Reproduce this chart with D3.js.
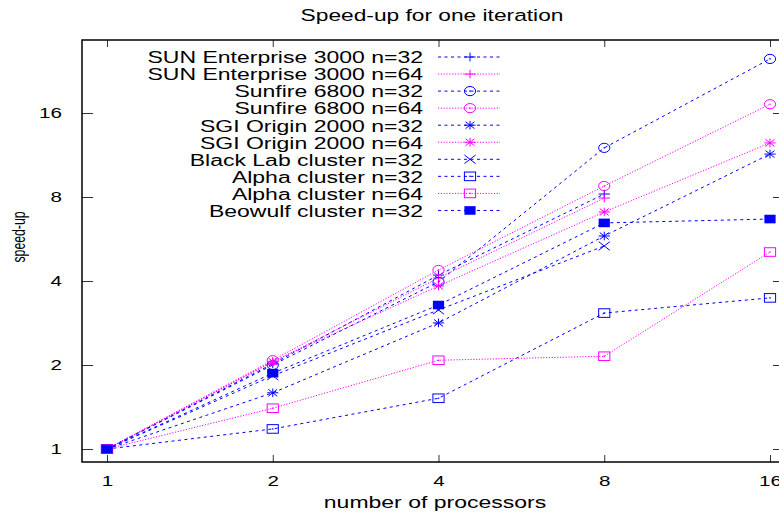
<!DOCTYPE html>
<html><head><meta charset="utf-8">
<script src="https://cdn.jsdelivr.net/npm/d3@7"></script>
<style>
body{margin:0;background:#fff}
svg{display:block}
text{font-family:"Liberation Sans",Arial,Helvetica,sans-serif;fill:#000}
</style>
</head><body>
<script>
// ---- data ----
const procs = [1, 2, 4, 8, 16];
const xTicks = [1, 2, 4, 8, 16];
const yTicks = [1, 2, 4, 8, 16];
const seriesNames = [
  "SUN Enterprise 3000 n=32",
  "SUN Enterprise 3000 n=64",
  "Sunfire 6800 n=32",
  "Sunfire 6800 n=64",
  "SGI Origin 2000 n=32",
  "SGI Origin 2000 n=64",
  "Black Lab cluster n=32",
  "Alpha cluster n=32",
  "Alpha cluster n=64",
  "Beowulf cluster n=32"
];
const sun32      = [1, 2.02, 4.20, 8.20];
const sun64      = [1, 2.05, 4.10, 7.93];
const sunfire32  = [1, 2.00, 3.97, 12.0, 25.0];
const sunfire64  = [1, 2.08, 4.38, 8.76, 17.2];
const sgi32      = [1, 1.59, 2.83, 5.80, 11.4];
const sgi64      = [1, 2.06, 3.84, 7.07, 12.5];
const blacklab32 = [1, 1.83, 3.15, 5.34];
const alpha32    = [1, 1.18, 1.52, 3.07, 3.48];
const alpha64    = [1, 1.40, 2.08, 2.15, 5.08];
const beowulf32  = [1, 1.87, 3.28, 6.46, 6.67];
const seriesValues = [sun32, sun64, sunfire32, sunfire64, sgi32, sgi64, blacklab32, alpha32, alpha64, beowulf32];

// ---- styles (not data) ----
const BLUE = "#0000ff", PINK = "#ff00ff";
const styleOf = [
  {c: BLUE, m: "plus"}, {c: PINK, m: "plus"},
  {c: BLUE, m: "circle"}, {c: PINK, m: "circle"},
  {c: BLUE, m: "star"}, {c: PINK, m: "star"},
  {c: BLUE, m: "cross"},
  {c: BLUE, m: "square"}, {c: PINK, m: "square"},
  {c: BLUE, m: "fsquare"}
];
const dashOf = c => c === BLUE ? "3,3.5" : "1.2,1.6";

const W = 779, H = 518;
const SX = 1.33;
const frame = {left: 82, right: 784, top: 40, bottom: 462};
const x = d3.scaleLog().base(2).domain([1, 16]).range([107, 770]);
const y = d3.scaleLog().base(2).domain([1, 16]).range([449, 113]);

const svg = d3.select("body").append("svg").attr("width", W).attr("height", H);
svg.append("rect").attr("width", W).attr("height", H).attr("fill", "#fff");

// axes ticks
const tickColor = "#333";
const gB = svg.append("g").attr("transform", `translate(0,${frame.bottom})`)
  .call(d3.axisBottom(x).tickValues(xTicks).tickFormat(d3.format("d")).tickSize(-7).tickPadding(13));
const gT = svg.append("g").attr("transform", `translate(0,${frame.top})`)
  .call(d3.axisTop(x).tickValues(xTicks).tickFormat("").tickSize(-7));
const gL = svg.append("g").attr("transform", `translate(${frame.left},0)`)
  .call(d3.axisLeft(y).tickValues(yTicks).tickFormat(d3.format("d")).tickSize(-11).tickPadding(20));
const gR = svg.append("g").attr("transform", `translate(${frame.right},0)`)
  .call(d3.axisRight(y).tickValues(yTicks).tickFormat("").tickSize(-11));
[gB, gT, gL, gR].forEach(g => {
  g.select(".domain").remove();
  g.selectAll(".tick line").attr("stroke", tickColor).attr("stroke-width", 1);
  g.selectAll(".tick text").attr("font-size", 15.5).attr("fill", "#000")
    .style("font-family", '"Liberation Sans",Arial,sans-serif');
});
gB.selectAll(".tick text").attr("transform", `scale(${SX},1)`);
gL.selectAll(".tick text").attr("x", -20 / SX).attr("transform", `scale(${SX},1)`);

// frame
svg.append("rect").attr("x", frame.left).attr("y", frame.top)
  .attr("width", frame.right - frame.left).attr("height", frame.bottom - frame.top)
  .attr("fill", "none").attr("stroke", "#000").attr("stroke-width", 1.5);

// markers
const HW = 5.6, HH = 4.3;
function marker(g, type, cx, cy, color) {
  const p = g.append("g").attr("transform", `translate(${cx},${cy})`);
  const sw = 1;
  if (type === "plus" || type === "star") {
    p.append("path").attr("d", `M${-HW},0H${HW}M0,${-HH}V${HH}`).attr("stroke", color).attr("stroke-width", sw).attr("fill", "none");
  }
  if (type === "cross" || type === "star") {
    const a = type === "star" ? 0.8 : 1;
    p.append("path").attr("d", `M${-HW*a},${-HH*a}L${HW*a},${HH*a}M${-HW*a},${HH*a}L${HW*a},${-HH*a}`).attr("stroke", color).attr("stroke-width", sw).attr("fill", "none");
  }
  if (type === "circle") {
    p.append("ellipse").attr("rx", 5.6).attr("ry", 4.6).attr("stroke", color).attr("stroke-width", sw).attr("fill", "none");
    p.append("circle").attr("r", 0.8).attr("fill", color);
  }
  if (type === "square") {
    p.append("rect").attr("x", -HW).attr("y", -HH).attr("width", 2*HW).attr("height", 2*HH).attr("stroke", color).attr("stroke-width", sw).attr("fill", "none");
    p.append("circle").attr("r", 0.8).attr("fill", color);
  }
  if (type === "fsquare") {
    p.append("rect").attr("x", -HW).attr("y", -HH).attr("width", 2*HW).attr("height", 2*HH).attr("fill", color);
  }
}

// series
const line = d3.line().x((d, i) => x(procs[i])).y(d => y(d));
const plot = svg.append("g");
seriesValues.forEach((vals, si) => {
  const st = styleOf[si];
  plot.append("path").attr("d", line(vals)).attr("fill", "none")
    .attr("stroke", st.c).attr("stroke-width", 1).attr("stroke-dasharray", dashOf(st.c));
  vals.forEach((v, i) => marker(plot, st.m, x(procs[i]), y(v), st.c));
});

// legend
const leg = svg.append("g");
const legTextX = 423, legLineX0 = 438, legLineX1 = 500, legMarkX = 470, legY0 = 57, legDY = 17.05;
seriesNames.forEach((name, i) => {
  const st = styleOf[i];
  const cy = legY0 + i * legDY;
  leg.append("text").attr("transform", `translate(${legTextX},${cy + 6.3}) scale(${SX},1)`)
    .attr("text-anchor", "end").attr("font-size", 17.3).attr("fill", st.c).text(name);
  leg.append("line").attr("x1", legLineX0).attr("x2", legLineX1).attr("y1", cy).attr("y2", cy)
    .attr("stroke", st.c).attr("stroke-width", 1).attr("stroke-dasharray", dashOf(st.c));
  marker(leg, st.m, legMarkX, cy, st.c);
});

// titles
svg.append("text").attr("transform", `translate(432,20.5) scale(${SX},1)`)
  .attr("text-anchor", "middle").attr("font-size", 17.1).text("Speed-up for one iteration");
svg.append("text").attr("transform", `translate(435,508) scale(${SX},1)`)
  .attr("text-anchor", "middle").attr("font-size", 17.3).text("number of processors");
svg.append("text").attr("transform", `translate(25,237) rotate(-90) scale(0.68,1)`)
  .attr("text-anchor", "middle").attr("font-size", 18).text("speed-up");
</script>
</body></html>
